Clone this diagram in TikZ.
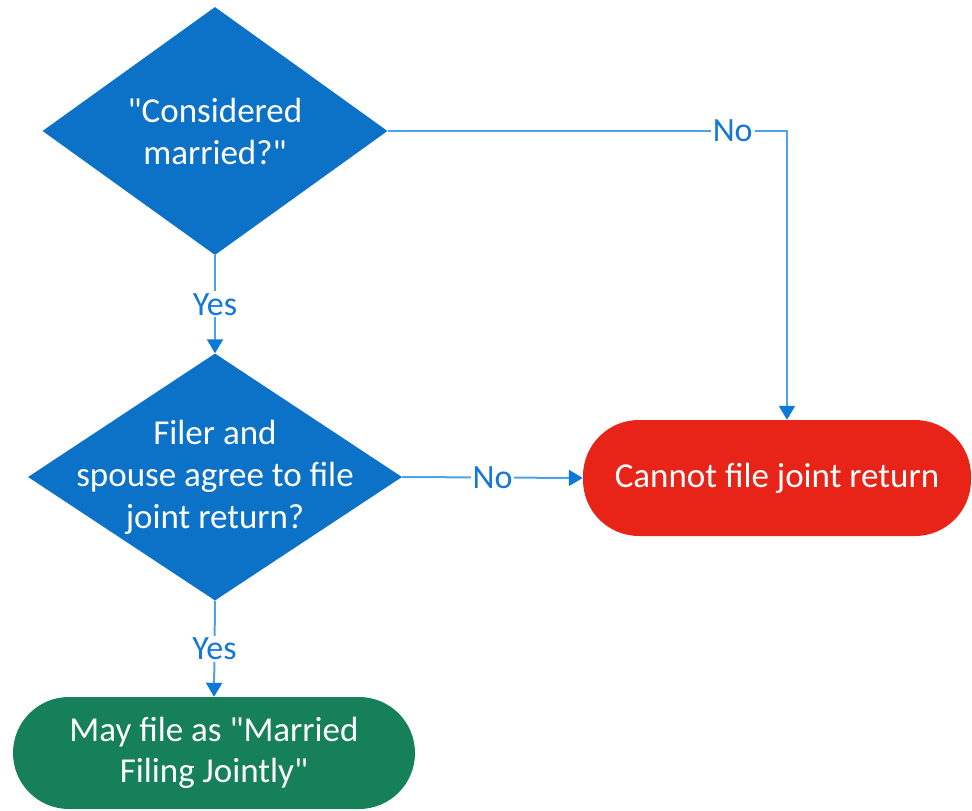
\documentclass[tikz,border=0pt]{standalone}
\usepackage{fontspec}
\setmainfont{Carlito}[Ligatures=TeXOff]
\usetikzlibrary{shapes.geometric,arrows.meta}
\definecolor{diablue}{HTML}{0B72C8}
\definecolor{linblue}{HTML}{4DA3E8}
\definecolor{tipblue}{HTML}{0A7AD8}
\definecolor{lblblue}{HTML}{1478D8}
\definecolor{boxred}{HTML}{E82318}
\definecolor{boxgreen}{HTML}{168058}
\begin{document}
\begin{tikzpicture}[x=1pt,y=-1pt,
  dia/.style={diamond, fill=diablue, draw=none, inner sep=0pt},
  dtext/.style={text=white, align=center, font=\fontsize{35}{42}\selectfont},
  pill/.style={rectangle, rounded corners=56pt, draw=none, text=white, align=center,
    font=\fontsize{35}{41}\selectfont},
  conn/.style={draw=linblue, line width=2pt, -{Triangle[width=16pt,length=14pt,fill=tipblue,color=tipblue]}},
  lbl/.style={fill=white, text=lblblue, inner sep=2pt, font=\fontsize{34}{40}\selectfont}
]
\useasboundingbox (0,0) rectangle (972,811);
\node[dia, minimum width=345pt, minimum height=248pt] (d1) at (215,131) {};
\node[dtext] (t1) at (215,131) {"Considered\\married?"};
\node[dia, minimum width=374pt, minimum height=247pt] (d2) at (215,477) {};
\node[dtext] (t2) at (215,477) {Filer and\\spouse agree to file\\joint return?};
\node[pill, fill=boxred, minimum width=388pt, minimum height=116pt] (r) at (777,478) {Cannot file joint return};
\node[pill, fill=boxgreen, minimum width=402pt, minimum height=112pt] (g) at (214,753) {May file as "Married\\Filing Jointly"};
\draw[conn] (d1.south) -- node[lbl]{Yes} (d2.north);
\draw[conn] (d2.south) -- node[lbl]{Yes} (g.north);
\draw[conn] (d2.east) -- node[lbl]{No} (r.west);
\draw[conn] (d1.east) -| node[lbl, pos=0.432]{No} ([xshift=10pt]r.north);
\end{tikzpicture}
\end{document}
